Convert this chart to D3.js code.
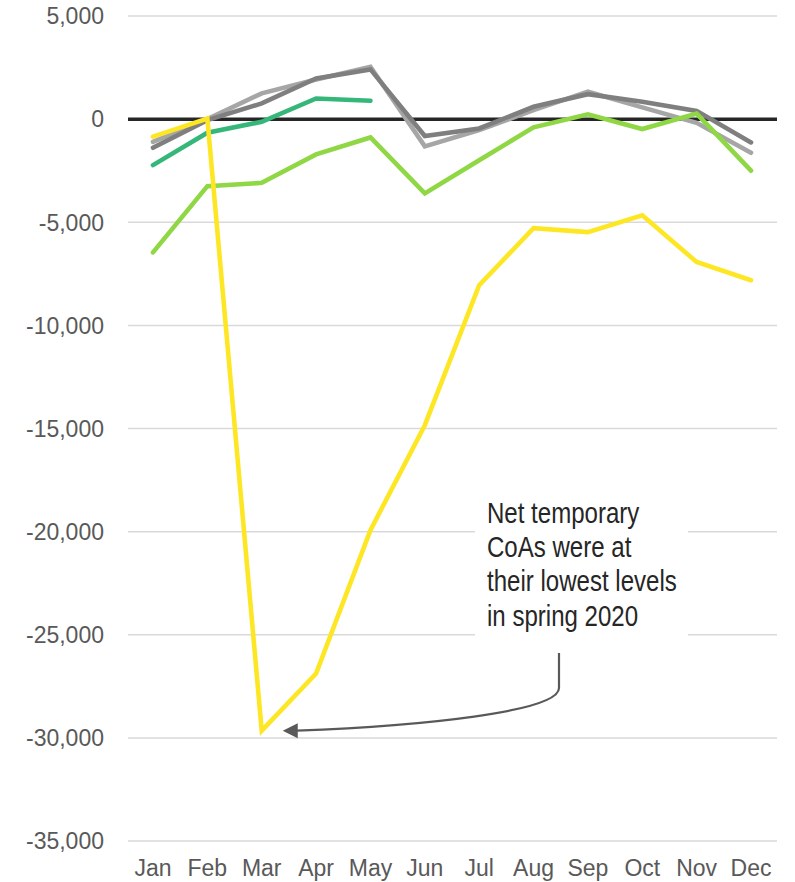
<!DOCTYPE html>
<html>
<head>
<meta charset="utf-8">
<script src="https://cdn.jsdelivr.net/npm/d3@7"></script>
<style>
html, body { margin: 0; padding: 0; background: #fff; }
svg { display: block; }
</style>
</head>
<body>
<svg id="chart" width="795" height="882"></svg>
<script>
const months = ["Jan","Feb","Mar","Apr","May","Jun","Jul","Aug","Sep","Oct","Nov","Dec"];
const yTicks = [5000, 0, -5000, -10000, -15000, -20000, -25000, -30000, -35000];

const seriesLightGray = [-1100, 0, 1250, 1920, 2540, -1320, -530, 440, 1330, 570, -180, -1630];
const seriesDarkGray  = [-1390, -50, 760, 1970, 2410, -820, -450, 600, 1210, 840, 400, -1130];
const seriesLime      = [-6460, -3250, -3090, -1710, -890, -3600, -1990, -400, 230, -480, 270, -2500];
const seriesTeal      = [-2230, -660, -130, 1000, 890, null, null, null, null, null, null, null];
const seriesYellow    = [-850, 30, -29650, -26880, -19930, -14840, -8050, -5290, -5480, -4660, -6930, -7810];

const seriesList = [
  { values: seriesLightGray, color: "#a6a6a6" },
  { values: seriesDarkGray,  color: "#7f7f7f" },
  { values: seriesLime,      color: "#8fd744" },
  { values: seriesTeal,      color: "#35b779" },
  { values: seriesYellow,    color: "#fde725" }
];

const annotationLines = ["Net temporary", "CoAs were at", "their lowest levels", "in spring 2020"];

const svg = d3.select("#chart");
const x = d3.scalePoint().domain(months).range([153, 751]);
const y = d3.scaleLinear().domain([-35000, 5000]).range([841, 16]);
const gridX0 = 128, gridX1 = 777;
const narrow = 0.83;

// gridlines
svg.append("g").selectAll("line")
  .data(yTicks.filter(d => d !== 0))
  .join("line")
  .attr("x1", gridX0).attr("x2", gridX1)
  .attr("y1", d => y(d)).attr("y2", d => y(d))
  .attr("stroke", "#d9d9d9").attr("stroke-width", 1.5);

// y tick labels
svg.append("g").selectAll("text")
  .data(yTicks)
  .join("text")
  .attr("x", 104).attr("y", d => y(d))
  .attr("dy", "0.36em")
  .attr("text-anchor", "end")
  .attr("font-family", "Liberation Sans, Arial, sans-serif")
  .attr("font-size", 23)
  .attr("fill", "#595959")
  .text(d => d3.format(",")(d).replace("\u2212", "-"));

// x labels
svg.append("g").selectAll("text")
  .data(months)
  .join("text")
  .attr("x", d => x(d)).attr("y", 876)
  .attr("text-anchor", "middle")
  .attr("font-family", "Liberation Sans, Arial, sans-serif")
  .attr("font-size", 23)
  .attr("fill", "#595959")
  .text(d => d);

// annotation box (white, masks gridlines)
svg.append("rect")
  .attr("x", 475).attr("y", 488).attr("width", 213).attr("height", 152)
  .attr("fill", "#fff");

// zero line
svg.append("line")
  .attr("x1", gridX0).attr("x2", gridX1)
  .attr("y1", y(0)).attr("y2", y(0))
  .attr("stroke", "#262626").attr("stroke-width", 3.5);

// series lines
const line = d3.line()
  .defined(d => d != null)
  .x((d, i) => x(months[i]))
  .y(d => y(d));

svg.append("g").selectAll("path")
  .data(seriesList)
  .join("path")
  .attr("d", s => line(s.values))
  .attr("fill", "none")
  .attr("stroke", s => s.color)
  .attr("stroke-width", 4.6)
  .attr("stroke-linecap", "round")
  .attr("stroke-linejoin", "miter");

// annotation text (condensed)
const ann = svg.append("text")
  .attr("transform", `translate(487,0) scale(${narrow},1)`)
  .attr("font-family", "Liberation Sans, Arial, sans-serif")
  .attr("font-size", 29)
  .attr("fill", "#262626");
annotationLines.forEach((t, i) => {
  ann.append("tspan").attr("x", 0).attr("y", 523 + i * 34.2).text(t);
});

// arrow
const tipX = x("Mar") + 21, tipY = y(-29650);
const p = d3.path();
p.moveTo(559, 653);
p.lineTo(559, 688);
p.bezierCurveTo(559, 712, 420, 726, tipX + 14, tipY);
svg.append("path")
  .attr("d", p.toString())
  .attr("fill", "none")
  .attr("stroke", "#595959")
  .attr("stroke-width", 2.2);

svg.append("path")
  .attr("d", `M${tipX},${tipY} L${tipX + 15},${tipY - 7.5} L${tipX + 15},${tipY + 7.5} Z`)
  .attr("fill", "#595959");
</script>
</body>
</html>
